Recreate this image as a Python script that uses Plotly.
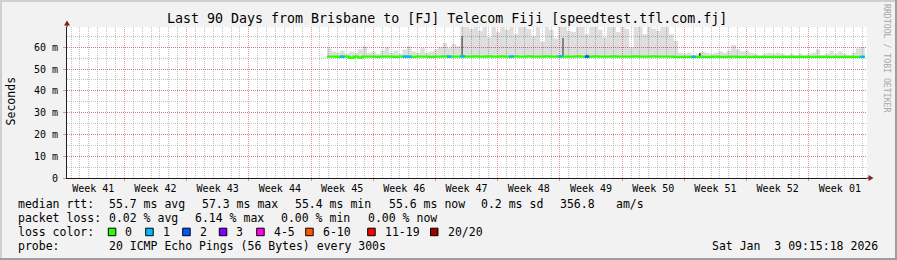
import plotly.graph_objects as go

# ---------------- data ----------------
title_text = "Last 90 Days from Brisbane to [FJ] Telecom Fiji [speedtest.tfl.com.fj]"
window_days = 90
first_week_boundary = 6.45          # days after window start
week_labels = ["Week 41", "Week 42", "Week 43", "Week 44", "Week 45", "Week 46", "Week 47",
               "Week 48", "Week 49", "Week 50", "Week 51", "Week 52", "Week 01"]
y_max = 69.3
y_ticks = [0, 10, 20, 30, 40, 50, 60]
y_tick_labels = ["0", "10 m", "20 m", "30 m", "40 m", "50 m", "60 m"]

bin_start = 29.25     # day of first sample
bin_step = 0.5        # days per sample

smoke_top = [
    59.5, 58.0, 57.5, 58.5, 57.0, 58.0, 57.5, 59.0, 60.5, 57.5,
    58.0, 57.0, 58.5, 60.0, 57.5, 58.5, 57.0, 59.0, 60.5, 58.0,
    57.5, 59.5, 57.5, 58.0, 59.0, 60.0, 62.0, 59.5, 61.5, 60.5,
    75, 75, 68.5, 75, 67.5, 75, 64.5, 75, 67.0, 75,
    68.0, 75, 66.0, 75, 75, 68.5, 65.0, 75, 62.5, 75,
    68.0, 64.0, 75, 75, 67.5, 67.0, 75, 75, 66.0, 75,
    75, 68.0, 64.5, 75, 75, 67.0, 75, 68.5, 60.0, 75,
    75, 66.0, 75, 68.5, 67.5, 75, 75, 66.0, 63.0,
    57.5, 57.0, 57.5, 56.5, 57.0, 58.0, 57.5, 57.0, 57.5, 58.0,
    57.5, 58.5, 61.0, 59.0, 58.0, 58.5, 57.5, 57.0, 56.5, 57.0,
    57.5, 57.0, 57.5, 57.0, 56.5, 57.0, 56.5, 57.0, 56.5, 57.0,
    57.5, 59.0, 56.5, 57.0, 58.5, 57.0, 58.0, 57.0, 56.5, 57.5,
    59.5, 60.0,
]

median_rtt = [
    55.7, 55.7, 55.6, 55.7, 55.7, 55.2, 55.7, 55.3, 55.7, 55.7,
    55.7, 55.6, 55.7, 55.7, 55.7, 55.6, 55.7, 55.7, 55.7, 55.6,
    55.7, 55.7, 55.7, 55.6, 55.7, 55.7, 55.8, 55.7, 55.7, 55.7,
    55.8, 55.7, 55.7, 55.8, 55.7, 55.7, 55.8, 55.7, 55.7, 55.8,
    55.7, 55.7, 55.8, 55.7, 55.7, 55.8, 55.7, 55.7, 55.7, 55.8,
    55.7, 55.7, 55.8, 55.7, 55.7, 55.7, 55.8, 55.7, 55.7, 55.7,
    55.8, 55.7, 55.7, 55.7, 55.8, 55.7, 55.7, 55.7, 55.7, 55.8,
    55.7, 55.7, 55.7, 55.8, 55.7, 55.7, 55.7, 55.7, 55.6, 55.6,
    55.6, 55.6, 55.6, 55.6, 55.6, 55.6, 55.6, 55.7, 55.6, 55.6,
    55.6, 55.7, 55.6, 55.6, 55.6, 55.6, 55.6, 55.6, 55.6, 55.6,
    55.6, 55.6, 55.6, 55.6, 55.6, 55.6, 55.6, 55.6, 55.6, 55.6,
    55.6, 55.6, 55.6, 55.6, 55.6, 55.6, 55.6, 55.6, 55.6, 55.6,
    55.6,
]

loss_pings = [0] * 121
for _i, _v in [(3, 1), (17, 1), (18, 1), (27, 1), (30, 1), (41, 1), (52, 1), (58, 2), (82, 1), (120, 1)]:
    loss_pings[_i] = _v

dark_smoke_day = [44.45, 55.8, 58.5, 71.2]
dark_smoke_low = [55.7, 55.7, 55.3, 55.3]
dark_smoke_high = [65.0, 64.2, 56.6, 57.4]
dark_smoke_color = ["#555555", "#555555", "#222222", "#111111"]

stats_rtt = {"avg": 55.7, "max": 57.3, "min": 55.4, "now": 55.6, "sd": 0.2, "am": 356.8}
stats_loss = {"avg": 0.02, "max": 6.14, "min": 0.00, "now": 0.00}
loss_classes = ["0", "1", "2", "3", "4-5", "6-10", "11-19", "20/20"]
loss_class_colors = ["#26ff00", "#00b8ff", "#0059ff", "#7e00ff", "#ff00ea", "#ff5500", "#ff0000", "#a10000"]
probe_text = "20 ICMP Echo Pings (56 Bytes) every 300s"
date_text = "Sat Jan  3 09:15:18 2026"

# ---------------- geometry helpers ----------------
W, H = 897, 260
ML, MR, MT, MB = 67, 30, 27, 82
PW, PH = W - ML - MR, H - MT - MB
def px(x):
    return (x - ML) / PW
def py(y):
    return (H - MB - y) / PH

MONO = "DejaVu Sans Mono"
GRID = "rgba(143,143,143,0.55)"
MGRID = "rgba(222,79,79,0.6)"

days = [bin_start + i * bin_step for i in range(len(smoke_top))]
x_steps = days + [days[-1] + bin_step]
med_steps = median_rtt + [median_rtt[-1]]
top_steps = smoke_top + [smoke_top[-1]]

fig = go.Figure()

# smoke (between median and highest ping)
fig.add_trace(go.Scatter(x=x_steps, y=med_steps, mode="lines", line=dict(width=0, shape="hv"),
                         hoverinfo="skip", showlegend=False))
fig.add_trace(go.Scatter(x=x_steps, y=top_steps, mode="lines", line=dict(width=0, shape="hv"),
                         fill="tonexty", fillcolor="rgba(0,0,0,0.13)", hoverinfo="skip", showlegend=False))

# darker smoke spikes
for d, lo, hi, c in zip(dark_smoke_day, dark_smoke_low, dark_smoke_high, dark_smoke_color):
    fig.add_trace(go.Scatter(x=[d, d], y=[lo, hi], mode="lines", line=dict(width=1.3, color=c),
                             hoverinfo="skip", showlegend=False))

# median line (loss 0 colour)
fig.add_trace(go.Scatter(x=x_steps, y=med_steps, mode="lines",
                         line=dict(width=2.4, color=loss_class_colors[0], shape="hv"),
                         hoverinfo="skip", showlegend=False))

# loss-coloured segments of the median
def loss_class(n):
    if n <= 0: return 0
    if n == 1: return 1
    if n == 2: return 2
    if n == 3: return 3
    if n <= 5: return 4
    if n <= 10: return 5
    if n <= 19: return 6
    return 7

for cls in range(1, 8):
    xs, ys = [], []
    for d, m, n in zip(days, median_rtt, loss_pings):
        if n > 0 and loss_class(n) == cls:
            xs += [d, d + bin_step, None]
            ys += [m, m, None]
    if xs:
        fig.add_trace(go.Scatter(x=xs, y=ys, mode="lines",
                                 line=dict(width=2.4, color=loss_class_colors[cls]),
                                 hoverinfo="skip", showlegend=False))

# helper trace for label axis
week_centers = [first_week_boundary - 3.5 + 7 * k for k in range(len(week_labels))]
fig.add_trace(go.Scatter(x=week_centers, y=[None] * len(week_centers), xaxis="x2",
                         mode="markers", hoverinfo="skip", showlegend=False))

fig.update_layout(
    width=W, height=H,
    margin=dict(l=ML, r=MR, t=MT, b=MB, pad=0),
    paper_bgcolor="#f2f2f2", plot_bgcolor="#ffffff",
    showlegend=False,
    xaxis=dict(range=[0, window_days], tickmode="linear", tick0=first_week_boundary, dtick=7,
               showticklabels=False, showgrid=True, gridcolor=MGRID, gridwidth=1, griddash="1px,1px",
               ticks="outside", ticklen=2, tickcolor=MGRID, zeroline=False,
               showline=True, linecolor="#1f1f1f", linewidth=1,
               minor=dict(tickmode="linear", tick0=first_week_boundary, dtick=1, showgrid=True,
                          gridcolor=GRID, gridwidth=1, griddash="1px,1px", ticks=""),
               fixedrange=True),
    xaxis2=dict(range=[0, window_days], overlaying="x", anchor="y", side="bottom",
                tickmode="array", tickvals=week_centers, ticktext=week_labels,
                showgrid=False, zeroline=False, showline=False, ticks="",
                tickfont=dict(family=MONO, size=10, color="#000000"), ticklabelstandoff=3),
    yaxis=dict(range=[0, y_max], tickmode="array", tickvals=y_ticks, ticktext=y_tick_labels,
               showgrid=True, gridcolor=MGRID, gridwidth=1, griddash="1px,1px",
               ticks="outside", ticklen=3, tickcolor=MGRID, zeroline=False,
               showline=True, linecolor="#1f1f1f", linewidth=1,
               tickfont=dict(family=MONO, size=10, color="#000000"), ticklabelstandoff=3,
               minor=dict(tickmode="linear", tick0=0, dtick=5, showgrid=True, gridcolor=GRID,
                          gridwidth=1, griddash="1px,1px", ticks=""),
               fixedrange=True),
)

shapes = []
# 3D border
shapes.append(dict(type="rect", xref="paper", yref="paper", x0=px(0), x1=px(W), y0=py(0), y1=py(2),
                   fillcolor="#cfcfcf", line=dict(width=0), layer="below"))
shapes.append(dict(type="rect", xref="paper", yref="paper", x0=px(0), x1=px(2), y0=py(0), y1=py(H),
                   fillcolor="#cfcfcf", line=dict(width=0), layer="below"))
shapes.append(dict(type="rect", xref="paper", yref="paper", x0=px(0), x1=px(W), y0=py(H - 2), y1=py(H),
                   fillcolor="#9e9e9e", line=dict(width=0), layer="below"))
shapes.append(dict(type="rect", xref="paper", yref="paper", x0=px(W - 2), x1=px(W), y0=py(0), y1=py(H),
                   fillcolor="#9e9e9e", line=dict(width=0), layer="below"))
# axis extensions and arrows
shapes.append(dict(type="line", xref="paper", yref="paper", x0=px(67), x1=px(67), y0=py(27), y1=py(24),
                   line=dict(color="#1f1f1f", width=1)))
shapes.append(dict(type="line", xref="paper", yref="paper", x0=px(867), x1=px(870), y0=py(178), y1=py(178),
                   line=dict(color="#1f1f1f", width=1)))
shapes.append(dict(type="path", xref="paper", yref="paper",
                   path=f"M {px(64)} {py(25.5)} L {px(67)} {py(20.5)} L {px(70)} {py(25.5)} Z",
                   fillcolor="#801f1f", line=dict(width=0)))
shapes.append(dict(type="path", xref="paper", yref="paper",
                   path=f"M {px(868.5)} {py(175)} L {px(873.5)} {py(178)} L {px(868.5)} {py(181)} Z",
                   fillcolor="#801f1f", line=dict(width=0)))

annotations = []
def text(x, y, s, size=11.5, anchor="left", color="#000000", angle=0):
    annotations.append(dict(x=px(x), y=py(y), xref="paper", yref="paper", text=s, showarrow=False,
                            xanchor=anchor, yanchor="middle", textangle=angle,
                            font=dict(family=MONO, size=size, color=color)))

text(447, 19, title_text, size=13.3, anchor="center")
text(10.7, 101.7, "Seconds", size=11.5, anchor="center", angle=-90)
text(887, 59, "RRDTOOL / TOBI OETIKER", size=8.2, anchor="center", color="#a8a8a8", angle=90)

# legend rows
row1 = [(16, "median rtt:"), (107.3, f"{stats_rtt['avg']:.1f} ms avg"), (200, f"{stats_rtt['max']:.1f} ms max"),
        (293.3, f"{stats_rtt['min']:.1f} ms min"), (386.7, f"{stats_rtt['now']:.1f} ms now"),
        (479.3, f"{stats_rtt['sd']:.1f} ms sd"), (558.3, f"{stats_rtt['am']:.1f}"), (614.3, "am/s")]
for x, s in row1:
    text(x, 204, s)
row2 = [(16, "packet loss:"), (107.3, f"{stats_loss['avg']:.2f} % avg"), (193.3, f"{stats_loss['max']:.2f} % max"),
        (279.3, f"{stats_loss['min']:.2f} % min"), (365.7, f"{stats_loss['now']:.2f} % now")]
for x, s in row2:
    text(x, 218, s)
text(16, 232, "loss color:")
box_x = [108.3, 145.7, 182.7, 219.3, 256.7, 305.7, 367.7, 430.5]
for bx, lab, col in zip(box_x, loss_classes, loss_class_colors):
    shapes.append(dict(type="rect", xref="paper", yref="paper", x0=px(bx), x1=px(bx + 7.5),
                       y0=py(228.2), y1=py(235.7), fillcolor=col, line=dict(color="#000000", width=1)))
    text(bx + 15, 232, lab)
text(16, 246, "probe:")
text(107.3, 246, probe_text)
text(880, 246, date_text, anchor="right")

fig.update_layout(shapes=shapes, annotations=annotations)
fig.write_html("out.html")
